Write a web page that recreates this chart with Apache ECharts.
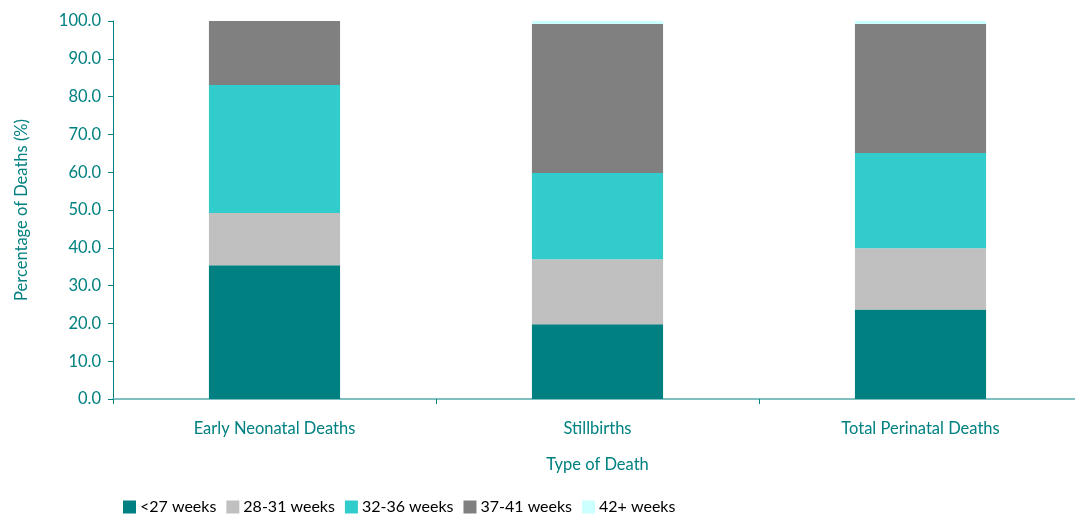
<!DOCTYPE html>
<html><head><meta charset="utf-8">
<script src="https://cdn.jsdelivr.net/npm/echarts@6/dist/echarts.min.js"></script>
<style>html,body{margin:0;padding:0;background:#fff}#c{width:1075px;height:514px}</style>
</head><body><div id="c"></div>
<script>
var categories = ['Early Neonatal Deaths', 'Stillbirths', 'Total Perinatal Deaths'];
var seriesNames = ['<27 weeks', '28-31 weeks', '32-36 weeks', '37-41 weeks', '42+ weeks'];
var w_lt27 = [35.4, 19.8, 23.7];
var w_28_31 = [13.8, 17.2, 16.2];
var w_32_36 = [33.9, 22.8, 25.2];
var w_37_41 = [16.9, 39.4, 34.1];
var w_42p = [0.0, 0.8, 0.8];
var colors = ['#008080', '#C0C0C0', '#33CCCC', '#808080', '#CCFFFF'];
var values = [w_lt27, w_28_31, w_32_36, w_37_41, w_42p];
var FONT = 'Lato';
var TEAL = '#008080';
var chart = echarts.init(document.getElementById('c'));
chart.setOption({
  animation: false,
  textStyle: {fontFamily: FONT},
  grid: {left: 113, top: 21, width: 969, height: 378, outerBoundsMode: 'none', containLabel: false},
  legend: {
    left: 118, top: 494, itemWidth: 13, itemHeight: 13, itemGap: 10,
    icon: 'rect',
    textStyle: {fontFamily: FONT, fontSize: 16, color: '#000', padding: [0,0,0,-1]},
    data: seriesNames
  },
  xAxis: {
    type: 'category', data: categories,
    name: 'Type of Death', nameLocation: 'middle', nameGap: 57,
    nameTextStyle: {color: TEAL, fontSize: 16.5, fontFamily: FONT},
    axisLine: {lineStyle: {color: '#7fbfbf', width: 2}},
    axisTick: {show: true, length: 5, lineStyle: {color: TEAL}},
    axisLabel: {color: TEAL, fontSize: 16.5, margin: 21, fontFamily: FONT}
  },
  yAxis: {
    type: 'value', min: 0, max: 100, interval: 10,
    name: 'Percentage of Deaths (%)', nameLocation: 'middle', nameGap: 83,
    nameTextStyle: {color: TEAL, fontSize: 16.5, fontFamily: FONT},
    axisLine: {show: true, lineStyle: {color: TEAL, width: 1}},
    axisTick: {show: true, length: 5, lineStyle: {color: TEAL}},
    splitLine: {show: false},
    axisLabel: {color: TEAL, fontSize: 16.5, margin: 12, fontFamily: FONT,
      formatter: function (v) { return v.toFixed(1); }}
  },
  series: seriesNames.map(function (n, i) {
    return {name: n, type: 'bar', stack: 'all', barWidth: '40.6%',
      itemStyle: {color: colors[i]}, data: values[i]};
  })
});
</script></body></html>
